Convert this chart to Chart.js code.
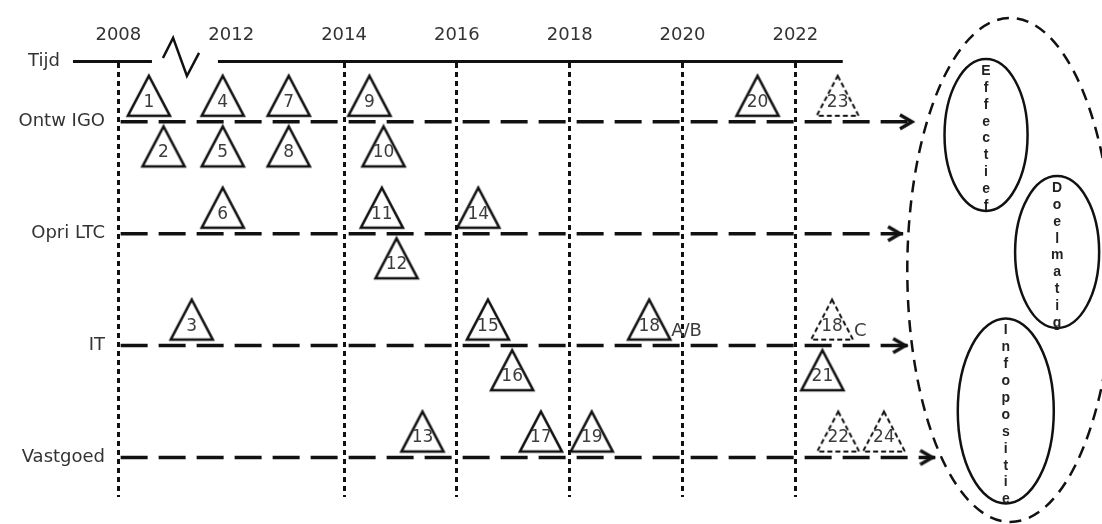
<!DOCTYPE html>
<html>
<head>
<meta charset="utf-8">
<title>Tijdlijn</title>
<script src="https://cdn.jsdelivr.net/npm/chart.js@4.4.1/dist/chart.umd.min.js"></script>
<style>
  html, body { margin: 0; padding: 0; background: #fff; }
  canvas { display: block; }
</style>
</head>
<body>
<canvas id="chart" width="1102" height="524"></canvas>
<script>
// Rows of the timeline, top to bottom
const rows = ['Ontw IGO', 'Opri LTC', 'IT', 'Vastgoed'];
const rowStart = 2008.08;
const rowEnds = [2024.12, 2023.91, 2024.0, 2024.48];

// Time axis: labels, and the years that get a dotted line (not 2012)
const tickYears = [2008, 2012, 2014, 2016, 2018, 2020, 2022];
const gridYears = [2008, 2014, 2016, 2018, 2020, 2022];

// Time line with the axis break between 2008 and 2012
const timeLevel = 3.539;
const timeLineYears = [2006.39, 2009.19, null, 2011.53, 2022.84];
const breakYears = [2009.58, 2009.94, 2010.43, 2010.86];
const breakLevels = [3.57, 3.749, 3.409, 3.615];

// Events (triangles)
const eventLabels  = ['1', '2', '3', '4', '5', '6', '7', '8', '9', '10', '11', '12', '13',
                      '14', '15', '16', '17', '18', '19', '20', '21', '22', '23', '18', '24'];
const eventSuffix  = ['', '', '', '', '', '', '', '', '', '', '', '', '',
                      '', '', '', '', 'A/B', '', '', '', '', '', 'C', ''];
const eventYears   = [2009.08, 2009.6, 2010.6, 2011.7, 2011.7, 2011.7, 2013.02, 2013.02, 2014.45, 2014.7,
                      2014.67, 2014.93, 2015.39, 2016.38, 2016.55, 2016.98, 2017.49, 2019.41, 2018.39,
                      2021.33, 2022.48, 2022.76, 2022.75, 2022.65, 2023.57];
const eventRows    = [0, 0, 2, 0, 0, 1, 0, 0, 0, 0, 1, 1, 3, 1, 2, 2, 3, 2, 3, 0, 2, 3, 0, 2, 3];
const eventSides   = [1, -1, 1, 1, -1, 1, 1, -1, 1, -1, 1, -1, 1, 1, 1, -1, 1, 1, 1, 1, -1, 1, 1, 1, 1];
const eventPlanned = [0, 0, 0, 0, 0, 0, 0, 0, 0, 0, 0, 0, 0, 0, 0, 0, 0, 0, 0, 0, 0, 1, 1, 1, 1];

// Goals on the right
const outcomeNames = ['Effectief', 'Doelmatig', 'Infopositie'];
const outcomeYears = [2025.38, 2026.64, 2025.73];
const outcomeLevels = [2.882, 1.836, 0.4155];

// Shapes of the ellipses (half width in years, half height in rows)
const outcomeSpanYears = [0.736, 0.745, 0.851];
const outcomeSpanRows = [0.679, 0.679, 0.827];
const goalArea = { year: 2025.81, level: 1.676, spanYears: 1.826, spanRows: 2.252 };

const UP = 0.232, DOWN = 0.22;
const INK = '#111';
const TEXT = '#333';
const FONT = "'DejaVu Sans', Verdana, sans-serif";

// 2008-2012 is drawn compressed (broken axis)
function toAxis(year) {
  return year < 2012 ? 2010 + (year - 2008) / 2 : year;
}

function rowValue(i) {
  return rows.length - 1 - i;
}

function makeTriangle(dashed) {
  const c = document.createElement('canvas');
  c.width = 48; c.height = 46;
  const g = c.getContext('2d');
  g.strokeStyle = INK;
  g.lineWidth = dashed ? 2 : 2.6;
  if (dashed) g.setLineDash([5, 3]);
  g.beginPath();
  g.moveTo(24, 3);
  g.lineTo(45, 43);
  g.lineTo(3, 43);
  g.closePath();
  g.stroke();
  return c;
}

function makeArrow() {
  const c = document.createElement('canvas');
  c.width = 32; c.height = 22;
  const g = c.getContext('2d');
  g.strokeStyle = INK;
  g.lineWidth = 3.5;
  g.beginPath();
  g.moveTo(1, 4);
  g.lineTo(13, 11);
  g.lineTo(1, 18);
  g.stroke();
  return c;
}

const triSolid = makeTriangle(false);
const triDashed = makeTriangle(true);
const arrowHead = makeArrow();

const eventData = eventYears.map((yr, i) => ({
  x: toAxis(yr),
  y: rowValue(eventRows[i]) + (eventSides[i] > 0 ? UP : -DOWN)
}));

const rowDatasets = rows.map((name, i) => ({
  label: name,
  data: [{ x: toAxis(rowStart), y: rowValue(i) }, { x: rowEnds[i], y: rowValue(i) }],
  showLine: true,
  borderColor: INK,
  borderWidth: 3.5,
  borderDash: [27, 11],
  pointStyle: arrowHead,
  pointRadius: [0, 8],
  order: 2
}));

const timeData = timeLineYears.map(yr => yr === null
  ? { x: toAxis(2010), y: null }
  : { x: toAxis(yr), y: timeLevel });

const breakData = breakYears.map((yr, i) => ({ x: toAxis(yr), y: breakLevels[i] }));

const decorations = {
  id: 'decorations',
  afterDatasetsDraw(chart) {
    const { ctx, scales: { x, y } } = chart;
    const meta = chart.getDatasetMeta(0);
    ctx.save();
    ctx.fillStyle = '#3c3c3c';
    ctx.textBaseline = 'middle';
    meta.data.forEach((pt, i) => {
      ctx.font = '17px ' + FONT;
      ctx.textAlign = 'center';
      ctx.fillText(eventLabels[i], pt.x, pt.y + 6.5);
      if (eventSuffix[i]) {
        ctx.font = '18px ' + FONT;
        ctx.textAlign = 'left';
        ctx.fillText(eventSuffix[i], pt.x + 22, pt.y + 12);
      }
    });

    // "Tijd" label in front of the time line
    ctx.fillStyle = TEXT;
    ctx.font = '18px ' + FONT;
    ctx.textAlign = 'right';
    ctx.fillText('Tijd', x.getPixelForValue(toAxis(timeLineYears[0])) - 13, y.getPixelForValue(timeLevel));
    ctx.restore();
  },
  afterDraw(chart) {
    const { ctx, scales: { x, y } } = chart;
    const ellipse = (yr, lvl, sx, sy) => {
      const cx = x.getPixelForValue(yr), cy = y.getPixelForValue(lvl);
      const rx = x.getPixelForValue(yr + sx) - cx;
      const ry = cy - y.getPixelForValue(lvl + sy);
      ctx.beginPath();
      ctx.ellipse(cx, cy, rx, ry, 0, 0, Math.PI * 2);
      ctx.stroke();
      return { cx, cy, rx, ry };
    };
    ctx.save();
    ctx.strokeStyle = INK;
    ctx.lineWidth = 2.5;
    ctx.setLineDash([12, 8]);
    ellipse(goalArea.year, goalArea.level, goalArea.spanYears, goalArea.spanRows);
    ctx.setLineDash([]);
    ctx.fillStyle = '#222';
    ctx.font = "bold 14px 'Liberation Sans', Arial, sans-serif";
    ctx.textAlign = 'center';
    ctx.textBaseline = 'middle';
    outcomeNames.forEach((name, i) => {
      const e = ellipse(outcomeYears[i], outcomeLevels[i], outcomeSpanYears[i], outcomeSpanRows[i]);
      const top = e.cy - e.ry;
      [...name].forEach((ch, k) => ctx.fillText(ch, e.cx, top + 12 + k * 16.9));
    });
    ctx.restore();
  }
};

new Chart(document.getElementById('chart'), {
  type: 'scatter',
  data: {
    datasets: [
      {
        label: 'Gebeurtenissen',
        data: eventData,
        pointStyle: eventPlanned.map(p => p ? triDashed : triSolid),
        pointRadius: 20,
        order: 0
      },
      ...rowDatasets,
      {
        label: 'Tijd',
        data: timeData,
        showLine: true,
        spanGaps: false,
        borderColor: INK,
        borderWidth: 3,
        pointRadius: 0,
        clip: false,
        order: 3
      },
      {
        label: 'Onderbreking',
        data: breakData,
        showLine: true,
        borderColor: INK,
        borderWidth: 2.5,
        pointRadius: 0,
        clip: false,
        order: 3
      }
    ]
  },
  options: {
    responsive: false,
    animation: false,
    events: [],
    layout: {
      autoPadding: false,
      padding: { top: 0, right: 2, bottom: 27, left: 0 }
    },
    plugins: {
      legend: { display: false },
      tooltip: { enabled: false }
    },
    scales: {
      x: {
        type: 'linear',
        position: 'top',
        min: 2009.887,
        max: 2027.4,
        afterFit(scale) {
          scale.height = 63;
          scale.paddingLeft = 0;
          scale.paddingRight = 0;
        },
        afterBuildTicks(scale) {
          scale.ticks = tickYears.map(yr => ({ value: toAxis(yr) }));
        },
        border: { display: false, dash: [5, 4] },
        grid: {
          drawTicks: false,
          lineWidth: 3,
          color: ctx => (ctx.tick && gridYears.some(yr => Math.abs(toAxis(yr) - ctx.tick.value) < 1e-6))
            ? INK : 'rgba(0,0,0,0)'
        },
        ticks: {
          autoSkip: false,
          maxRotation: 0,
          padding: 17,
          color: TEXT,
          font: { family: FONT, size: 18 },
          callback: value => {
            const i = tickYears.findIndex(yr => Math.abs(toAxis(yr) - value) < 1e-6);
            return i >= 0 ? String(tickYears[i]) : '';
          }
        }
      },
      y: {
        type: 'linear',
        min: -0.353,
        max: 3.525,
        afterFit(scale) {
          scale.width = 112;
          scale.paddingTop = 0;
          scale.paddingBottom = 0;
        },
        afterBuildTicks(scale) {
          scale.ticks = rows.map((r, i) => ({ value: rowValue(i) }));
        },
        border: { display: false },
        grid: { display: false, drawTicks: false },
        ticks: {
          padding: 7,
          color: TEXT,
          font: { family: FONT, size: 18 },
          callback: value => rows[rows.length - 1 - value]
        }
      }
    }
  },
  plugins: [decorations]
});
</script>
</body>
</html>
